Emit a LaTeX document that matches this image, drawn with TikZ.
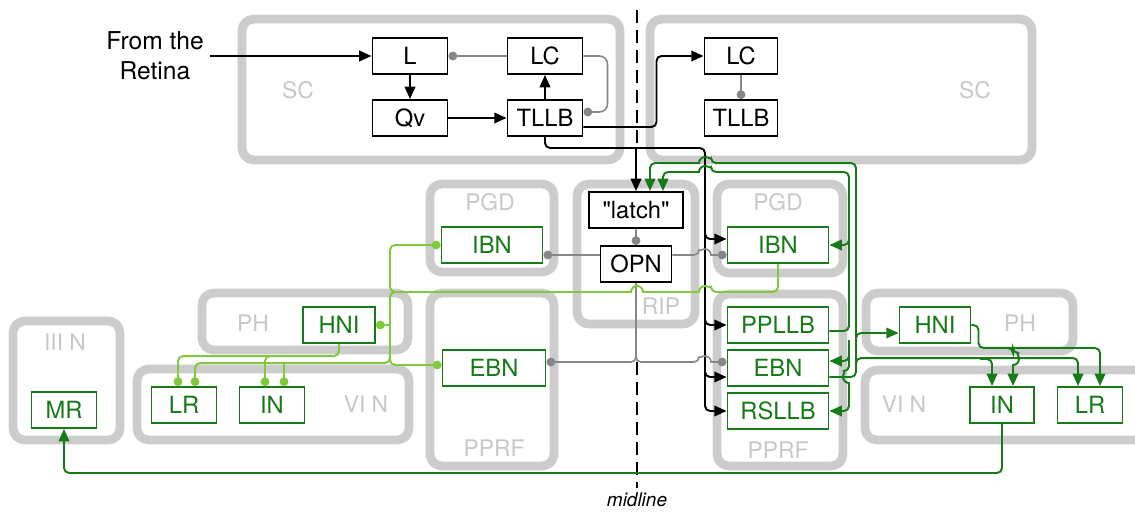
\documentclass[tikz,border=0pt]{standalone}
\usepackage{fontspec}
\setmainfont{TeX Gyre Heros}
\usepackage{tikz}
\usetikzlibrary{arrows.meta, calc}

\definecolor{dgreen}{RGB}{22,122,22}
\definecolor{lgreen}{RGB}{130,200,60}

\begin{document}
\begin{tikzpicture}[x=0.02cm, y=-0.02cm,
    region/.style={draw=black!20, line width=5pt, rounded corners=0.24cm},
    tag/.style={text=black!22, font=\fontsize{13}{15}\selectfont},
    cell/.style={draw, fill=white, line width=1.1pt, minimum height=0.72cm,
        inner sep=1pt, font=\fontsize{13.5}{15}\selectfont},
    gcell/.style={cell, draw=dgreen, text=dgreen},
    exc/.style={line width=1.1pt, rounded corners=0.1cm,
        -{Triangle[length=7pt,width=6pt]}},
    gexc/.style={exc, draw=dgreen},
    inh/.style={draw=black!47, line width=0.9pt, rounded corners=0.1cm,
        -{Circle[length=5pt]}},
    linh/.style={inh, draw=lgreen, line width=1.1pt},
    lwire/.style={draw=lgreen, line width=1.1pt, rounded corners=0.1cm},
    midl/.style={line width=1.1pt, dash pattern=on 0.26cm off 0.14cm}
]
    \useasboundingbox (0,0) rectangle (1135,513);
    \clip (0,0) rectangle (1135,513);

    % ============================================================
    % NUCLEI (grey regions)
    % ============================================================
    \draw[region] (242,19) rectangle (620,160);
    \node[tag] (scL) at (298,90) {SC};
    \draw[region] (650,19) rectangle (1032,160);
    \node[tag] (scR) at (975,90) {SC};

    \draw[region] (430,184) rectangle (554,272);
    \node[tag] (pgdL) at (490,202) {PGD};
    \draw[region] (717,184) rectangle (843,273);
    \node[tag] (pgdR) at (778,202) {PGD};
    \draw[region] (577,184) rectangle (695,324);
    \node[tag] (rip) at (661,306) {RIP};

    \draw[region] (430,293) rectangle (554,466);
    \node[tag] (pprfL) at (494,448) {PPRF};
    \draw[region] (717,294) rectangle (843,466);
    \node[tag] (pprfR) at (778,450) {PPRF};

    \draw[region] (202,293) rectangle (408,350);
    \node[tag] (phL) at (253,323) {PH};
    \draw[region] (137,369) rectangle (409,440);
    \node[tag] (vinL) at (366,404) {VI N};
    \draw[region] (13,321) rectangle (120,440);
    \node[tag] (iiin) at (65,342) {III N};

    \draw[region] (866,293) rectangle (1073,351);
    \node[tag] (phR) at (1020,323) {PH};
    \draw[region] (865,370) rectangle (1160,440);
    \node[tag] (vinR) at (904,404) {VI N};

    % ============================================================
    % MIDLINE
    % ============================================================
    \coordinate (midA) at (637,10);
    \coordinate (midB) at (637,148);
    \coordinate (midC) at (637,362);
    \coordinate (midD) at (637,488);
    \draw[midl] (midA) -- (midB);
    \draw[midl] (midC) -- (midD);
    \node[font=\fontsize{10.8}{12}\selectfont\itshape] (midtag) at (637,500) {midline};

    % ============================================================
    % CELLS
    % ============================================================
    \node[align=center, font=\fontsize{14}{17}\selectfont] (retina) at (155,56)
        {From the\\Retina};

    \node[cell, minimum width=1.5cm] (L) at (410,56) {L};
    \node[cell, minimum width=1.5cm] (Qv) at (410,118) {Qv};
    \node[cell, minimum width=1.5cm] (lLC) at (545,56) {LC};
    \node[cell, minimum width=1.5cm] (lTLLB) at (545,118) {TLLB};
    \node[cell, minimum width=1.46cm] (rLC) at (741,56) {LC};
    \node[cell, minimum width=1.46cm] (rTLLB) at (741,118) {TLLB};

    \node[cell, minimum width=1.88cm] (latch) at (636,210)
        {\textquotedbl latch\textquotedbl};
    \node[cell, minimum width=1.42cm] (OPN) at (636,264) {OPN};

    \node[gcell, minimum width=2.02cm] (lIBN) at (492,245) {IBN};
    \node[gcell, minimum width=2.06cm] (lEBN) at (494,368) {EBN};

    \node[gcell, minimum width=2.02cm] (rIBN) at (778,245) {IBN};
    \node[gcell, minimum width=2.02cm] (rPPLLB) at (778,325) {PPLLB};
    \node[gcell, minimum width=2.02cm] (rEBN) at (778,368) {EBN};
    \node[gcell, minimum width=2.02cm] (rRSLLB) at (778,411) {RSLLB};

    \node[gcell, minimum width=1.44cm] (lHNI) at (339,325) {HNI};
    \node[gcell, minimum width=1.3cm] (lLR) at (184,405) {LR};
    \node[gcell, minimum width=1.3cm] (lIN) at (272,405) {IN};
    \node[gcell, minimum width=1.3cm] (MR) at (64,410) {MR};

    \node[gcell, minimum width=1.42cm] (rHNI) at (935,325) {HNI};
    \node[gcell, minimum width=1.28cm] (rIN) at (1002,405) {IN};
    \node[gcell, minimum width=1.3cm] (rLR) at (1090,405) {LR};

    % ============================================================
    % SUPERIOR COLLICULUS
    % ============================================================
    \draw[exc] (retina.east) -- (L.west);
    \draw[exc] (L) -- (Qv);
    \draw[exc] (Qv) -- (lTLLB);
    \draw[exc] (lTLLB) -- (lLC);
    \draw[inh] (lLC) -- (L);
    \draw[inh, rounded corners=0.16cm] (lLC.east) -- ++(24,0) |- ($(lTLLB.east)+(0,-6)$);
    \draw[exc] ($(lTLLB.east)+(0,9)$) -- ++(73,0) |- (rLC.west);
    \draw[inh] (rLC) -- (rTLLB);

    % ============================================================
    % TLLB -> LATCH AND BURST CELLS
    % ============================================================
    \coordinate (tl) at (705,148);
    \draw[exc] (lTLLB.south) |- (tl) |- (rRSLLB.west);
    \draw[exc] (latch.north |- tl) -- (latch.north);
    \draw[exc] (705,228) |- ($(rIBN.west)+(0,-6)$);
    \draw[exc] (705,315) |- (rPPLLB.west);
    \draw[exc] (705,366) |- ($(rEBN.west)+(0,9)$);

    % ============================================================
    % OMNIPAUSE
    % ============================================================
    \draw[inh] (latch) -- (OPN);
    \draw[inh] ($(OPN.west)+(0,-9)$) -- ($(lIBN.east)+(0,10)$);
    \draw[inh] ($(OPN.east)+(0,-9)$) -- (699,255) [sharp corners]
        arc[start angle=180, end angle=0, radius=0.12cm] -- ($(rIBN.west)+(0,10)$);
    \draw[inh] (OPN.south) |- ($(lEBN.east)+(0,-6)$);
    \draw[inh] (OPN.south) |- (699,362) [sharp corners]
        arc[start angle=180, end angle=0, radius=0.12cm] -- ($(rEBN.west)+(0,-6)$);

    % ============================================================
    % CONTRALATERAL INHIBITION (IBN)
    % ============================================================
    \draw[lwire] (rIBN.south) |- (711,292) [sharp corners]
        arc[start angle=0, end angle=180, radius=0.12cm] -- (643,292)
        arc[start angle=0, end angle=180, radius=0.12cm] -- (400,292);
    \draw[linh] (400,292) -| (390,280) |- (lIBN.west);
    \draw[linh] (400,292) -| (390,310) |- ($(lEBN.west)+(0,-3)$);
    \draw[linh] (390,325) -- (lHNI.east);
    \draw[linh] (390,340) |- ($(lLR.north)+(11,-23)$) -- ($(lLR.north)+(11,0)$);
    \draw[linh] ($(lIN.north)+(12,-23)$) -- ($(lIN.north)+(12,0)$);
    \draw[linh] (lHNI.south) |- ($(lLR.north)+(-6,-30)$) -- ($(lLR.north)+(-6,0)$);
    \draw[linh] (280,356) -| ($(lIN.north)+(-7,0)$);

    % ============================================================
    % PPLLB BUS
    % ============================================================
    \draw[gexc] ($(rPPLLB.east)+(0,6)$) -| (849,250) |- (711,172) [sharp corners]
        arc[start angle=0, end angle=180, radius=0.12cm] -- (690,172)
        [rounded corners=0.1cm] -| ($(latch.north)+(27,0)$);
    \draw[gexc] (849,235) |- (rIBN.east);
    \draw[gexc] (849,350) |- ($(rEBN.east)+(0,-7)$);
    \draw[gexc] (849,340) -- (849,371) [sharp corners]
        arc[start angle=90, end angle=270, radius=0.12cm] -- (849,395)
        [rounded corners=0.1cm] |- (rRSLLB.east);

    % ============================================================
    % EBN BUS
    % ============================================================
    \draw[gexc] ($(rEBN.east)+(0,9)$) -| (856,300) |- (711,163) [sharp corners]
        arc[start angle=0, end angle=180, radius=0.12cm] -- (690,163)
        [rounded corners=0.1cm] -| ($(latch.north)+(14,0)$);
    \draw[gexc] (856,345) |- ($(rHNI.west)+(0,8)$);
    \draw[gexc] (856,370) |- ($(rLR.north)+(-12,-28)$) -- ($(rLR.north)+(-12,0)$);
    \draw[gexc] (980,359) -| ($(rIN.north)+(-10,0)$);

    % ============================================================
    % HNI -> VI N, IN -> MR
    % ============================================================
    \draw[gexc] (rHNI.east) -| ($(rHNI.east)+(7,23)$) -| ($(rLR.north)+(10,0)$);
    \draw[gexc] (1003,348) -| (1013,353) [sharp corners]
        arc[start angle=90, end angle=-90, radius=0.12cm] -- ($(rIN.north)+(11,0)$);
    \draw[gexc] (rIN.south) -- ++(0,49) -| (MR.south);

\end{tikzpicture}
\end{document}
